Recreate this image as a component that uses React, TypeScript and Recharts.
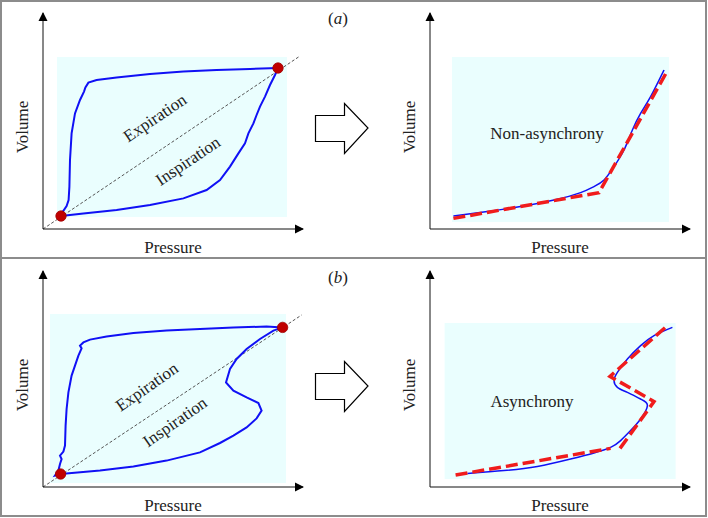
import { LineChart, Line, XAxis, YAxis, ReferenceArea, ReferenceLine, ReferenceDot } from 'recharts';

type Pt = { x: number; y: number };

// (a) pressure-volume loop, values in axis units (x 0-130, y 0-108)
const loopAExpiration: Pt[] = [
  { x: 9, y: 6.5 }, { x: 9.3, y: 7.8 }, { x: 11.8, y: 11.5 }, { x: 12.8, y: 14.5 }, { x: 13.2, y: 21.2 },
  { x: 13.5, y: 34.5 }, { x: 14.3, y: 47.8 }, { x: 16, y: 57.8 }, { x: 18.5, y: 64.5 }, { x: 20.5, y: 68.7 },
  { x: 21.2, y: 70.8 }, { x: 22.7, y: 73.2 }, { x: 26.8, y: 74.5 }, { x: 36.8, y: 75.8 }, { x: 53.5, y: 77.5 },
  { x: 70.2, y: 78.7 }, { x: 86.8, y: 79.5 }, { x: 103.5, y: 80 }, { x: 117.5, y: 80.5 },
];
const loopAInspiration: Pt[] = [
  { x: 9, y: 6.5 }, { x: 20.2, y: 7.8 }, { x: 36.8, y: 9.5 }, { x: 53.5, y: 12 }, { x: 70.2, y: 15.3 },
  { x: 81.8, y: 19.5 }, { x: 88.5, y: 24.5 }, { x: 93.5, y: 31.2 }, { x: 97.7, y: 37.8 }, { x: 101, y: 42.8 },
  { x: 102.7, y: 47.8 }, { x: 105.2, y: 52.8 }, { x: 106.8, y: 57 }, { x: 108.5, y: 61.2 }, { x: 111, y: 66.2 },
  { x: 113.5, y: 72 }, { x: 116, y: 77 }, { x: 117.5, y: 80.5 },
];
const pointsA: Pt[] = [{ x: 9, y: 6.5 }, { x: 117.5, y: 80.5 }];
const diagonalA: Pt[] = [{ x: 0, y: 0 }, { x: 128.5, y: 86.5 }];

// (a) inspiration curve and its piecewise-linear fit
const curveA: Pt[] = [
  { x: 11.7, y: 6.5 }, { x: 28.7, y: 8.7 }, { x: 45.3, y: 11.2 }, { x: 62, y: 14.5 }, { x: 75.3, y: 18.2 },
  { x: 82, y: 21.2 }, { x: 87, y: 24.5 }, { x: 92, y: 31.2 }, { x: 97, y: 39.5 }, { x: 101.2, y: 49.5 },
  { x: 105.3, y: 57.8 }, { x: 110.3, y: 66.2 }, { x: 117, y: 79.5 },
];
const fitA: Pt[] = [{ x: 11.7, y: 5.3 }, { x: 84.5, y: 18.2 }, { x: 117.8, y: 77.5 }];

// (b) pressure-volume loop
const loopBExpiration: Pt[] = [
  { x: 8.8, y: 6.5 }, { x: 6, y: 5.7 }, { x: 7.7, y: 8.2 }, { x: 8.5, y: 11.5 }, { x: 9.3, y: 14 },
  { x: 8.5, y: 15.7 }, { x: 10.2, y: 17.7 }, { x: 11, y: 20.7 }, { x: 11.3, y: 30.7 }, { x: 11.8, y: 39 },
  { x: 12.7, y: 47.3 }, { x: 14.3, y: 55.7 }, { x: 16, y: 60.7 }, { x: 17.7, y: 65.7 }, { x: 19.3, y: 69.3 },
  { x: 18.5, y: 70.7 }, { x: 20.2, y: 72.3 }, { x: 23.5, y: 73.7 }, { x: 31.8, y: 75.3 }, { x: 45.2, y: 77 },
  { x: 61.8, y: 78.2 }, { x: 78.5, y: 79 }, { x: 95.2, y: 79.8 }, { x: 111.8, y: 80.2 }, { x: 119.8, y: 79.8 },
];
const loopBInspiration: Pt[] = [
  { x: 8.8, y: 6.5 }, { x: 28.5, y: 8.2 }, { x: 45.2, y: 10.3 }, { x: 61.8, y: 13.2 }, { x: 78.5, y: 17.3 },
  { x: 88.5, y: 22 }, { x: 95.2, y: 25.7 }, { x: 101.8, y: 29.8 }, { x: 106.8, y: 34.3 }, { x: 109.3, y: 38.2 },
  { x: 107.7, y: 42 }, { x: 101.8, y: 44.8 }, { x: 95.2, y: 48.2 }, { x: 91.5, y: 52.3 }, { x: 93.5, y: 59 },
  { x: 96.8, y: 64 }, { x: 101.8, y: 69 }, { x: 108.5, y: 74 }, { x: 115.2, y: 78.2 }, { x: 119.8, y: 79.8 },
];
const pointsB: Pt[] = [{ x: 8.8, y: 6.5 }, { x: 119.8, y: 79.8 }];
const diagonalB: Pt[] = [{ x: 0, y: 0 }, { x: 129.3, y: 86 }];

// (b) inspiration curve and its piecewise-linear fit
const curveB: Pt[] = [
  { x: 18.7, y: 6.8 }, { x: 37, y: 8.2 }, { x: 53.7, y: 10.3 }, { x: 70.3, y: 14 }, { x: 82, y: 17 },
  { x: 90.3, y: 19.8 }, { x: 95.3, y: 23.2 }, { x: 100.3, y: 28.2 }, { x: 105.3, y: 34 }, { x: 108.7, y: 40.7 },
  { x: 105.3, y: 44 }, { x: 98.7, y: 47.3 }, { x: 93.7, y: 49.8 }, { x: 92, y: 53.2 }, { x: 93.7, y: 57.3 },
  { x: 98.7, y: 64 }, { x: 105.3, y: 70.7 }, { x: 112, y: 75.7 }, { x: 121.2, y: 79.8 },
];
const fitB1: Pt[] = [{ x: 12.8, y: 6 }, { x: 90.3, y: 19.3 }];
const fitB2: Pt[] = [{ x: 95, y: 19.3 }, { x: 112, y: 42.7 }, { x: 90, y: 55.3 }, { x: 118.7, y: 80.7 }];

const FONT = "'Liberation Serif', 'Times New Roman', serif";
const TEXT = '#222';
const BLUE = '#1010f5';
const RED = '#f01c1c';

interface Series { data: Pt[]; color: string; width: number; dash?: string; curve: 'linear' | 'natural' }
interface Note { x: number; y: number; text: string; angle: number }
interface Area { x1: number; x2: number; y1: number; y2: number }

const arrowRight = (p: any) => (
  <path d={`M${p.cx + 1},${p.cy} L${p.cx - 8},${p.cy - 4.5} L${p.cx - 8},${p.cy + 4.5} Z`} fill="#000" />
);
const arrowUp = (p: any) => (
  <path d={`M${p.cx},${p.cy - 1} L${p.cx - 4.5},${p.cy + 8} L${p.cx + 4.5},${p.cy + 8} Z`} fill="#000" />
);
const marker = (p: any) => <circle cx={p.cx} cy={p.cy} r={5.2} fill="#c00000" stroke="#a00000" strokeWidth={0.8} />;
const noteShape = (n: Note) => (p: any) => (
  <text
    x={p.cx}
    y={p.cy}
    textAnchor="middle"
    dominantBaseline="central"
    transform={`rotate(${n.angle} ${p.cx} ${p.cy})`}
    fontSize={17}
    fontFamily={FONT}
    fill={TEXT}
  >
    {n.text}
  </text>
);

function PVChart({ left, top, area, series, dots = [], diagonal, notes }: {
  left: number; top: number; area: Area; series: Series[]; dots?: Pt[]; diagonal?: Pt[]; notes: Note[];
}) {
  return (
    <div style={{ position: 'absolute', left, top }}>
      <LineChart width={320} height={258} margin={{ top: 13, right: 17, bottom: 0, left: 0 }}>
        <XAxis
          type="number"
          dataKey="x"
          domain={[0, 130]}
          allowDataOverflow
          height={29}
          tick={false}
          tickLine={false}
          axisLine={{ stroke: '#111', strokeWidth: 1 }}
          label={{ value: 'Pressure', position: 'insideBottom', offset: 5, fontSize: 17, fontFamily: FONT, fill: TEXT }}
        />
        <YAxis
          type="number"
          dataKey="y"
          domain={[0, 108]}
          allowDataOverflow
          width={43}
          tick={false}
          tickLine={false}
          axisLine={{ stroke: '#111', strokeWidth: 1 }}
          label={{ value: 'Volume', angle: -90, position: 'insideLeft', offset: 22, dy: 6, fontSize: 17, fontFamily: FONT, fill: TEXT, style: { textAnchor: 'middle' } }}
        />
        <ReferenceArea x1={area.x1} x2={area.x2} y1={area.y1} y2={area.y2} fill="#eafefe" fillOpacity={1} stroke="none" />
        {diagonal && (
          <ReferenceLine segment={diagonal} stroke="#555" strokeWidth={1} strokeDasharray="3 2" ifOverflow="visible" />
        )}
        {notes.map((n) => (
          <ReferenceDot key={n.text} x={n.x} y={n.y} ifOverflow="visible" shape={noteShape(n)} />
        ))}
        {series.map((s, i) => (
          <Line
            key={i}
            data={s.data}
            dataKey="y"
            type={s.curve}
            stroke={s.color}
            strokeWidth={s.width}
            strokeDasharray={s.dash}
            dot={false}
            activeDot={false}
            isAnimationActive={false}
          />
        ))}
        {dots.map((d, i) => (
          <ReferenceDot key={i} x={d.x} y={d.y} ifOverflow="visible" shape={marker} />
        ))}
        <ReferenceDot x={130} y={0} ifOverflow="visible" shape={arrowRight} />
        <ReferenceDot x={0} y={108} ifOverflow="visible" shape={arrowUp} />
      </LineChart>
    </div>
  );
}

function BigArrow({ top }: { top: number }) {
  return (
    <svg style={{ position: 'absolute', left: 310, top: top + 98 }} width={64} height={60}>
      <polygon points="5.5,17.5 34.5,17.5 34.5,5.5 58,30 34.5,55.5 34.5,43.5 5.5,43.5" fill="#fff" stroke="#000" strokeWidth={1.2} />
    </svg>
  );
}

function PanelTag({ top, tag }: { top: number; tag: string }) {
  return (
    <div style={{ position: 'absolute', left: 318, top: top + 9, width: 40, textAlign: 'center', fontFamily: FONT, fontSize: 17, color: TEXT, lineHeight: '20px' }}>
      (<i>{tag}</i>)
    </div>
  );
}

export default function App() {
  return (
    <div style={{ position: 'absolute', left: 0, top: 0, width: 708, height: 518, background: '#fff', overflow: 'hidden' }}>
      <div style={{ position: 'absolute', left: 0, top: 0, width: 707, height: 517, border: '2px solid #8c8c8c', boxSizing: 'border-box' }} />
      <div style={{ position: 'absolute', left: 0, top: 257, width: 707, height: 2, background: '#8c8c8c' }} />

      <PVChart
        left={0}
        top={0}
        area={{ x1: 7, x2: 122, y1: 6, y2: 86 }}
        diagonal={diagonalA}
        dots={pointsA}
        series={[
          { data: loopAExpiration, color: BLUE, width: 2, curve: 'linear' },
          { data: loopAInspiration, color: BLUE, width: 2, curve: 'linear' },
        ]}
        notes={[
          { x: 56, y: 55.5, text: 'Expiration', angle: -34 },
          { x: 72.5, y: 34, text: 'Inspiration', angle: -34 },
        ]}
      />
      <BigArrow top={0} />
      <PanelTag top={0} tag="a" />
      <PVChart
        left={387}
        top={0}
        area={{ x1: 11, x2: 119.5, y1: 3.5, y2: 86 }}
        series={[
          { data: curveA, color: BLUE, width: 1.5, curve: 'natural' },
          { data: fitA, color: RED, width: 3.5, dash: '12 5', curve: 'linear' },
        ]}
        notes={[{ x: 58.5, y: 48, text: 'Non-asynchrony', angle: 0 }]}
      />

      <PVChart
        left={0}
        top={258}
        area={{ x1: 3.5, x2: 121.5, y1: 2, y2: 86.5 }}
        diagonal={diagonalB}
        dots={pointsB}
        series={[
          { data: loopBExpiration, color: BLUE, width: 2, curve: 'linear' },
          { data: loopBInspiration, color: BLUE, width: 2, curve: 'linear' },
        ]}
        notes={[
          { x: 52, y: 50, text: 'Expiration', angle: -35 },
          { x: 66, y: 32.5, text: 'Inspiration', angle: -35 },
        ]}
      />
      <BigArrow top={258} />
      <PanelTag top={259} tag="b" />
      <PVChart
        left={387}
        top={258}
        area={{ x1: 7.3, x2: 122.8, y1: 4, y2: 82 }}
        series={[
          { data: curveB, color: BLUE, width: 1.5, curve: 'natural' },
          { data: fitB1, color: RED, width: 3.5, dash: '12 5', curve: 'linear' },
          { data: fitB2, color: RED, width: 3.5, dash: '12 5', curve: 'linear' },
        ]}
        notes={[{ x: 51, y: 43, text: 'Asynchrony', angle: 0 }]}
      />
    </div>
  );
}
